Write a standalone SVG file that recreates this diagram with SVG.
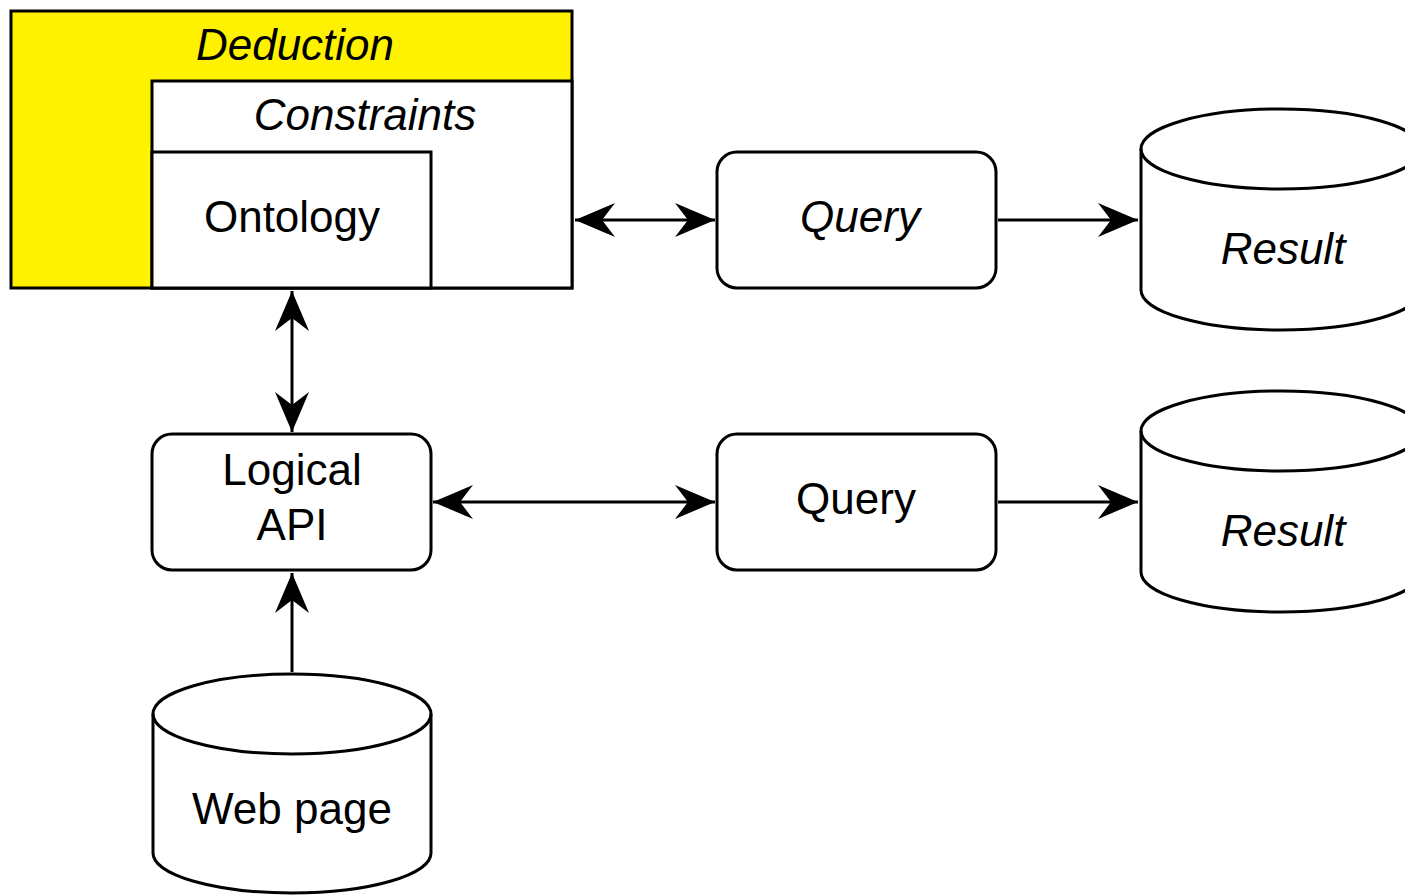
<svg xmlns="http://www.w3.org/2000/svg" width="1405" height="895" viewBox="0 0 1405 895">
<style>
.s{stroke:#000;stroke-width:3;fill:#fff}
.t{font-family:"Liberation Sans",Arial,sans-serif;font-size:44px;fill:#000;text-anchor:middle}
.i{font-style:italic}
.c{stroke:#000;stroke-width:3;fill:none}
</style>
<defs>
<marker id="ah" markerUnits="userSpaceOnUse" markerWidth="44" markerHeight="38" refX="40" refY="18" orient="auto-start-reverse" viewBox="0 0 44 38">
<path d="M0,1 L40,18 L0,35 L13,18 Z" fill="#000"/>
</marker>
</defs>
<rect width="1405" height="895" fill="#fff"/>
<g id="deduction">
<rect x="11" y="11" width="561" height="277" fill="#fff200" stroke="#000" stroke-width="3"/>
<text class="t i" x="295" y="60">Deduction</text>
</g>
<g id="constraints">
<rect class="s" x="152" y="81" width="420" height="207"/>
<text class="t i" x="365" y="130">Constraints</text>
</g>
<g id="ontology">
<rect class="s" x="152" y="152" width="279" height="136"/>
<text class="t" x="292" y="232">Ontology</text>
</g>
<g id="query1">
<rect class="s" x="717" y="152" width="279" height="136" rx="20"/>
<text class="t i" x="860" y="232">Query</text>
</g>
<g id="result1">
<path class="s" d="M1141,149 A140,40 0 0 1 1421,149 V290 A140,40 0 0 1 1141,290 Z"/>
<path class="c" d="M1141,149 A140,40 0 0 0 1421,149"/>
<text class="t i" x="1283" y="264">Result</text>
</g>
<g id="logicalapi">
<rect class="s" x="152" y="434" width="279" height="136" rx="20"/>
<text class="t" x="292" y="485">Logical</text>
<text class="t" x="292" y="540">API</text>
</g>
<g id="query2">
<rect class="s" x="717" y="434" width="279" height="136" rx="20"/>
<text class="t" x="856" y="514">Query</text>
</g>
<g id="result2">
<path class="s" d="M1141,431 A140,40 0 0 1 1421,431 V572 A140,40 0 0 1 1141,572 Z"/>
<path class="c" d="M1141,431 A140,40 0 0 0 1421,431"/>
<text class="t i" x="1283" y="546">Result</text>
</g>
<g id="webpage">
<path class="s" d="M153,714 A139,40 0 0 1 431,714 V853 A139,40 0 0 1 153,853 Z"/>
<path class="c" d="M153,714 A139,40 0 0 0 431,714"/>
<text class="t" x="292" y="824">Web page</text>
</g>
<g id="connectors">
<line class="c" x1="575" y1="220" x2="715" y2="220" marker-start="url(#ah)" marker-end="url(#ah)"/>
<line class="c" x1="998" y1="220" x2="1138" y2="220" marker-end="url(#ah)"/>
<line class="c" x1="292" y1="291" x2="292" y2="432" marker-start="url(#ah)" marker-end="url(#ah)"/>
<line class="c" x1="433" y1="502" x2="715" y2="502" marker-start="url(#ah)" marker-end="url(#ah)"/>
<line class="c" x1="998" y1="502" x2="1138" y2="502" marker-end="url(#ah)"/>
<line class="c" x1="292" y1="672" x2="292" y2="573" marker-end="url(#ah)"/>
</g>
</svg>
